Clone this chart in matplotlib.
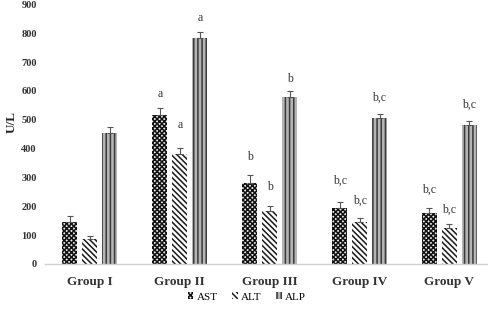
import numpy as np
import matplotlib
matplotlib.use('Agg')
import matplotlib.pyplot as plt

plt.rcParams['font.family'] = ['Liberation Serif', 'DejaVu Serif']
plt.rcParams['hatch.linewidth'] = 1.1

groups = ['Group I', 'Group II', 'Group III', 'Group IV', 'Group V']
series = ['AST', 'ALT', 'ALP']

ast = [145, 515, 281, 195, 175]
alt = [88, 380, 185, 147, 123]
alp = [455, 784, 579, 505, 483]

ast_err = [22, 25, 26, 20, 20]
alt_err = [10, 23, 17, 14, 14]
alp_err = [20, 20, 20, 14, 12]

# significance letters and the heights they sit at
ast_sig = ['', 'a', 'b', 'b,c', 'b,c']
alt_sig = ['', 'a', 'b', 'b,c', 'b,c']
alp_sig = ['', 'a', 'b', 'b,c', 'b,c']
ast_sig_y = [0, 589, 370, 288, 257]
alt_sig_y = [0, 483, 267, 219, 188]
alp_sig_y = [0, 853, 640, 575, 551]

fig = plt.figure(figsize=(4.89, 3.12), dpi=100)
ax = fig.add_axes([0.092, 0.154, 0.908, 0.832])

x = np.arange(len(groups))
w = 0.167
step = 0.222

styles = [
    dict(facecolor='#e8e8e8', edgecolor='#111111', hatch='xxxxxxx', linewidth=0),
    dict(facecolor='white', edgecolor='#1a1a1a', hatch='\\\\\\\\\\\\', linewidth=0),
    dict(facecolor='#b5b5b5', edgecolor='#3a3a3a', hatch='||||', linewidth=0),
]
vals = [ast, alt, alp]
errs = [ast_err, alt_err, alp_err]
sigs = [ast_sig, alt_sig, alp_sig]
sig_ys = [ast_sig_y, alt_sig_y, alp_sig_y]

for i in range(3):
    pos = x + (i - 1) * step
    ax.bar(pos, vals[i], w, label=series[i], **styles[i])
    ax.errorbar(pos, vals[i], yerr=[np.zeros(len(x)), errs[i]], fmt='none',
                ecolor='#555555', elinewidth=0.8, capsize=2, capthick=0.8)
    for j in range(len(x)):
        if sigs[i][j]:
            ax.text(pos[j], sig_ys[i][j], sigs[i][j], ha='center', va='center',
                    fontsize=8.5, color='#333333')

ax.set_xlim(-0.5, 4.44)
ax.set_ylim(0, 900)
ax.set_yticks(range(0, 901, 100))
ax.set_xticks(x)
ax.set_xticklabels(groups, fontsize=9.5, fontweight='bold', color='#333333')
for lab in ax.get_yticklabels():
    lab.set_fontsize(7.5)
    lab.set_fontweight('bold')
    lab.set_color('#333333')
ax.tick_params(axis='both', length=0)
ax.tick_params(axis='x', pad=9)
ax.tick_params(axis='y', pad=6)

for s in ['top', 'right', 'left']:
    ax.spines[s].set_visible(False)
ax.spines['bottom'].set_color('#d0d0d0')
ax.spines['bottom'].set_linewidth(1)

fig.text(0.025, 0.61, 'U/L', rotation=90, fontsize=9.5, fontweight='bold',
         ha='center', va='center', color='#222222')

fig.legend(loc='center', bbox_to_anchor=(0.505, 0.048), ncol=3, frameon=False,
           fontsize=8, handlelength=0.5, handleheight=0.5, handletextpad=0.3,
           columnspacing=1.3)

fig.savefig('out.png', dpi=100)
